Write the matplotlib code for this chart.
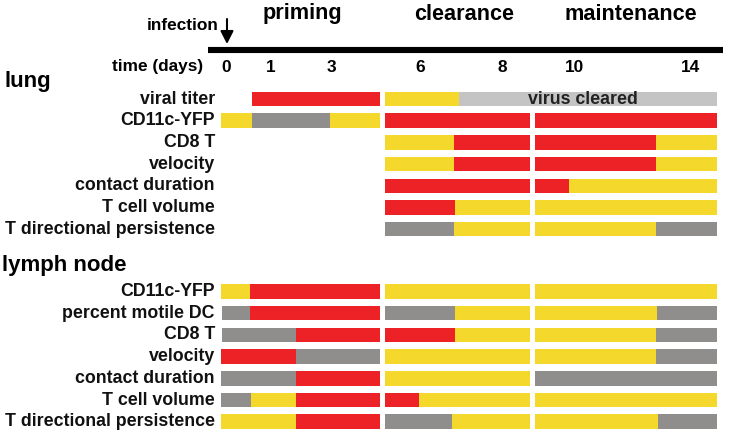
import matplotlib
matplotlib.use("Agg")
import matplotlib.pyplot as plt

plt.rcParams['font.family'] = ['Liberation Sans', 'DejaVu Sans']

# ---- data ----
phases = ["priming", "clearance", "maintenance"]
phase_centers = [302, 464, 631]
day_labels = ["0", "1", "3", "6", "8", "10", "14"]
day_positions = [226, 271, 331, 420, 502, 575, 691]

lung_rows = ["viral titer", "CD11c-YFP", "CD8 T", "velocity",
             "contact duration", "T cell volume", "T directional persistence"]
lung_segments = [
    [(252, 380, "R"), (385, 459, "Y"), (459, 717, "L")],
    [(221, 252, "Y"), (252, 330, "G"), (330, 380, "Y"), (385, 530, "R"), (535, 717, "R")],
    [(385, 454, "Y"), (454, 530, "R"), (535, 656, "R"), (656, 717, "Y")],
    [(385, 454, "Y"), (454, 530, "R"), (535, 656, "R"), (656, 717, "Y")],
    [(385, 530, "R"), (535, 569, "R"), (569, 717, "Y")],
    [(385, 455, "R"), (455, 530, "Y"), (535, 717, "Y")],
    [(385, 454, "G"), (454, 530, "Y"), (535, 656, "Y"), (656, 717, "G")],
]

ln_rows = ["CD11c-YFP", "percent motile DC", "CD8 T", "velocity",
           "contact duration", "T cell volume", "T directional persistence"]
ln_segments = [
    [(221, 250, "Y"), (250, 380, "R"), (385, 530, "Y"), (535, 717, "Y")],
    [(222, 250, "G"), (250, 380, "R"), (385, 455, "G"), (455, 530, "Y"), (535, 657, "Y"), (657, 717, "G")],
    [(222, 296, "G"), (296, 380, "R"), (385, 455, "R"), (455, 530, "Y"), (535, 656, "Y"), (656, 717, "G")],
    [(221, 296, "R"), (296, 380, "G"), (385, 530, "Y"), (535, 656, "Y"), (656, 717, "G")],
    [(221, 296, "G"), (296, 380, "R"), (385, 530, "Y"), (535, 717, "G")],
    [(221, 251, "G"), (251, 296, "Y"), (296, 380, "R"), (385, 419, "R"), (419, 530, "Y"), (535, 717, "Y")],
    [(221, 296, "Y"), (296, 380, "R"), (385, 452, "G"), (452, 530, "Y"), (535, 658, "Y"), (658, 717, "G")],
]

virus_note = "virus cleared"
virus_note_x = 583

colors = {"R": "#ec2227", "Y": "#f4d82b", "G": "#8f8e8c", "L": "#c4c4c4"}

# ---- layout ----
fig = plt.figure(figsize=(7.29, 4.36), dpi=100)
ax = fig.add_axes([0, 0, 1, 1])
ax.set_xlim(0, 729)
ax.set_ylim(436, 0)
ax.axis("off")

lung_y0, ln_y0, dy, bh = 99, 291.5, 21.7, 14.5
label_x = 215
lab_fs = 12.8

def draw_block(rows, segs, y0):
    for i, (name, sl) in enumerate(zip(rows, segs)):
        y = y0 + i * dy
        ax.text(label_x, y, name, ha="right", va="center", fontsize=lab_fs,
                fontweight="bold", color="#111111")
        for (s, e, c) in sl:
            ax.barh(y, e - s, left=s, height=bh, color=colors[c], linewidth=0)

draw_block(lung_rows, lung_segments, lung_y0)
draw_block(ln_rows, ln_segments, ln_y0)

ax.text(virus_note_x, lung_y0, virus_note, ha="center", va="center",
        fontsize=lab_fs, fontweight="bold", color="#222222")

# group labels
ax.text(5, 82, "lung", ha="left", va="center", fontsize=16, fontweight="bold")
ax.text(2, 265, "lymph node", ha="left", va="center", fontsize=16, fontweight="bold")

# timeline
ax.plot([208, 723], [50, 50], color="black", linewidth=4.4, solid_capstyle="butt")
for p, c in zip(phases, phase_centers):
    ax.text(c, 14, p, ha="center", va="center", fontsize=15.6, fontweight="bold")
ax.text(203, 67, "time (days)", ha="right", va="center", fontsize=12.4, fontweight="bold")
for lab, x in zip(day_labels, day_positions):
    ax.text(x, 67, lab, ha="center", va="center", fontsize=12.4, fontweight="bold")
ax.text(219, 25, "infection", ha="right", va="center", fontsize=12.4, fontweight="bold")
ax.annotate("", xy=(227, 44), xytext=(227, 19),
            arrowprops=dict(arrowstyle="-|>,head_length=0.55,head_width=0.28",
                            color="black", lw=1.5, mutation_scale=14,
                            shrinkA=0, shrinkB=0))

fig.savefig("out.png", dpi=100)
